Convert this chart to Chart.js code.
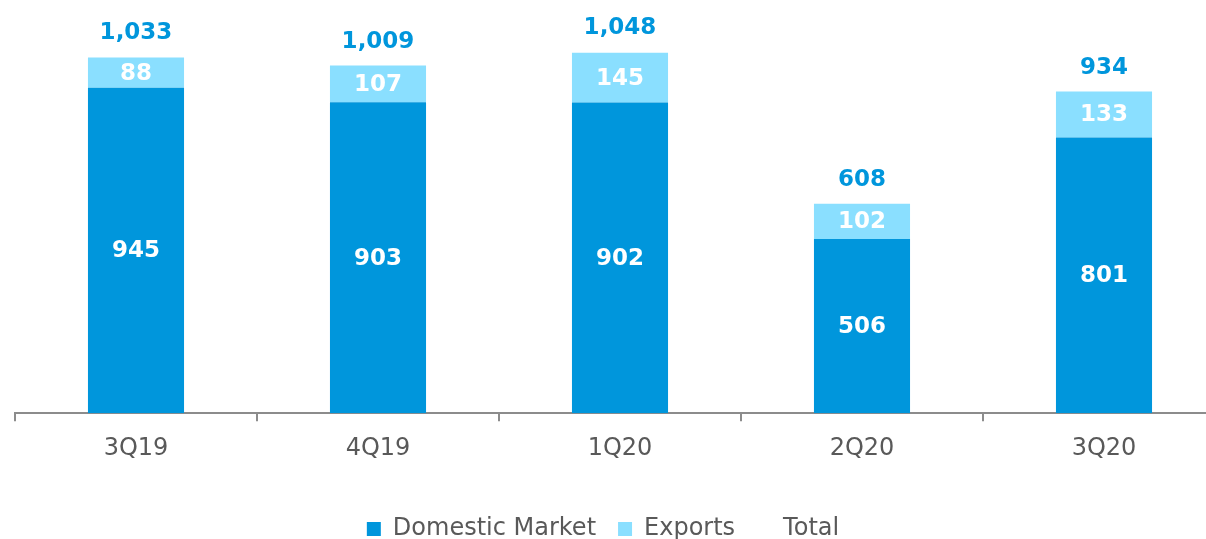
<!DOCTYPE html>
<html>
<head>
<meta charset="utf-8">
<script src="https://cdn.jsdelivr.net/npm/chart.js@4.4.1/dist/chart.umd.min.js"></script>
<style>
  html, body { margin: 0; padding: 0; background: #fff; overflow: hidden; }
  #wrap { position: relative; width: 1225px; height: 539px; }
</style>
</head>
<body>
<div id="wrap"><canvas id="volume-chart"></canvas></div>
<script>
// quarterly volumes (thousand units)
const quarters = ['3Q19', '4Q19', '1Q20', '2Q20', '3Q20'];
const domestic = [945, 903, 902, 506, 801];
const exportsV = [88, 107, 145, 102, 133];
const totals   = [1033, 1009, 1048, 608, 934];

const DARK  = '#0096DC';
const LIGHT = '#8ADFFF';
const GREY  = '#595959';
const FONT  = "'DejaVu Sans', Verdana, sans-serif";

// value labels inside the segments and above the stack
const valueLabels = {
  id: 'valueLabels',
  afterDatasetsDraw(chart) {
    const ctx = chart.ctx;
    ctx.save();
    ctx.textAlign    = 'center';
    ctx.textBaseline = 'middle';
    chart.data.datasets.forEach((ds, i) => {
      const meta = chart.getDatasetMeta(i);
      meta.data.forEach((el, j) => {
        const v = ds.data[j];
        ctx.font = `bold 23px ${FONT}`;
        if (ds.type === 'line') {
          ctx.fillStyle = DARK;
          ctx.fillText(v.toLocaleString('en-US'), el.x, el.y - 24);
        } else {
          ctx.fillStyle = '#FFFFFF';
          ctx.fillText(String(v), el.x, (el.y + el.base) / 2 + 1);
        }
      });
    });
    ctx.restore();
  },
};

// canvas is wider than the window (plot runs off the right edge), so pull the legend back to centre
const legendShift = {
  id: 'legendShift',
  afterLayout(chart) {
    const lg = chart.legend;
    if (!lg) return;
    lg.left   -= 17;
    lg.right  -= 17;
    lg.top    += 19;
    lg.bottom += 19;
  },
};

new Chart(document.getElementById('volume-chart'), {
  data: {
    labels: quarters,
    datasets: [
      {
        type:            'bar',
        label:           'Domestic Market',
        data:            domestic,
        backgroundColor: DARK,
        stack:           'v',
        barPercentage:   1,
        categoryPercentage: 0.397,
      },
      {
        type:            'bar',
        label:           'Exports',
        data:            exportsV,
        backgroundColor: LIGHT,
        stack:           'v',
        barPercentage:   1,
        categoryPercentage: 0.397,
      },
      {
        type:            'line',
        label:           'Total',
        data:            totals,
        showLine:        false,
        pointRadius:     0,
        borderColor:     'rgba(0,0,0,0)',
        backgroundColor: 'rgba(0,0,0,0)',
      },
    ],
  },
  options: {
    responsive:          true,
    maintainAspectRatio: false,
    animation:           false,
    layout:              { padding: { left: 15, right: 0, top: 0, bottom: 7 } },
    plugins: {
      legend: {
        position: 'bottom',
        labels: {
          color:     GREY,
          font:      { family: FONT, size: 24 },
          boxWidth:  14,
          boxHeight: 14,
          padding:   22,
        },
      },
      tooltip: { enabled: false },
    },
    scales: {
      x: {
        stacked: true,
        offset:  true,
        grid:    { display: true, drawOnChartArea: false, drawTicks: true, tickLength: 8, color: '#8C8C8C', lineWidth: 2 },
        border:  { display: true, color: '#8C8C8C', width: 2 },
        ticks:   { color: GREY, font: { family: FONT, size: 24 }, padding: 13 },
      },
      y: {
        stacked: true,
        display: false,
        min:     0,
        max:     1200,
      },
    },
  },
  plugins: [valueLabels, legendShift],
});
</script>
</body>
</html>
